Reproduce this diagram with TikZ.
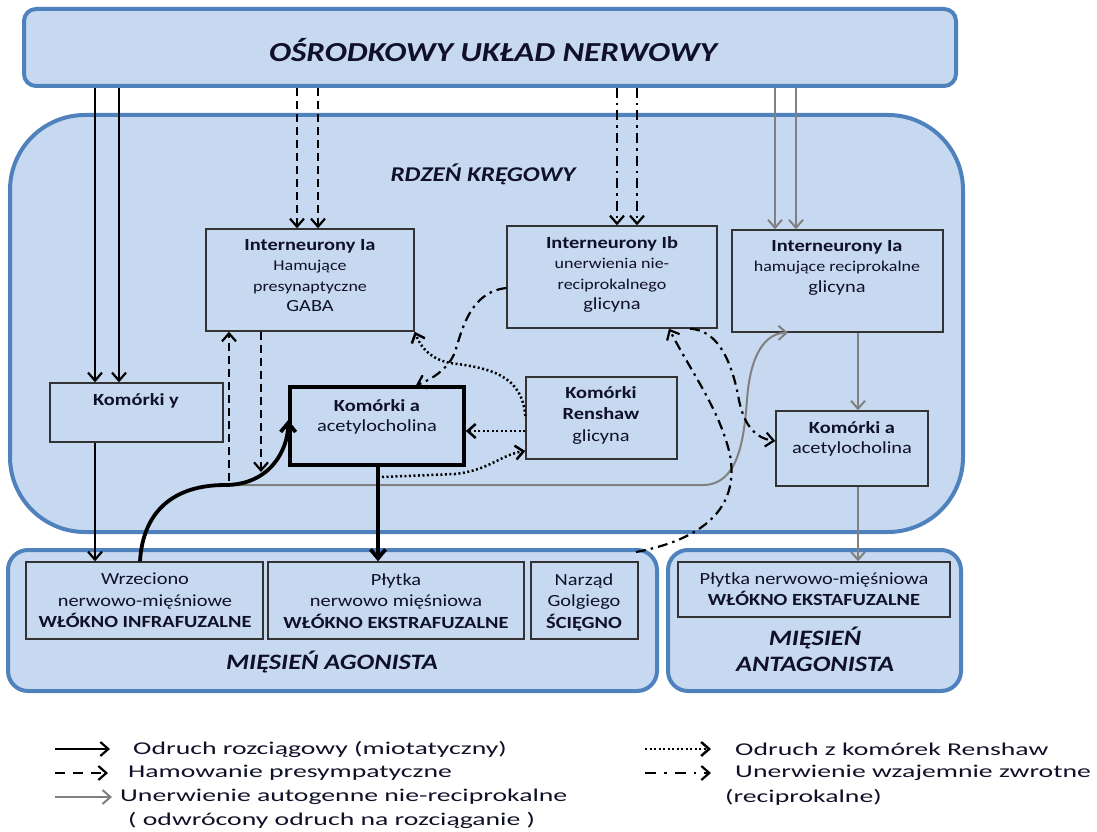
\documentclass[tikz,border=0pt]{standalone}
\usepackage{fontspec}
\setmainfont{Carlito}[FakeStretch=1.2]
\newfontfamily\legfont{Carlito}[FakeStretch=1.54]
\usetikzlibrary{arrows.meta,fit}
\definecolor{fillb}{HTML}{C6D9F1}
\definecolor{bordb}{HTML}{4F81BD}
\definecolor{grayc}{HTML}{808080}
\definecolor{txtc}{HTML}{101028}
\begin{document}
\begin{tikzpicture}[x=1pt,y=-1pt,
  bigbox/.style={draw=bordb,line width=4pt,fill=fillb,inner sep=0pt},
  cell/.style={draw=black!80,line width=1.4pt,fill=fillb,inner sep=0pt},
  txt/.style={inner sep=0pt,align=center,text=txtc},
  tip/.style={-{Straight Barb[length=8pt,width=14pt]}},
  sol/.style={line width=2.2pt,tip},
  thk/.style={line width=3.8pt,-{Straight Barb[length=9pt,width=15pt]}},
  dsh/.style={line width=2.2pt,dash pattern=on 8pt off 5pt,tip},
  dotl/.style={line width=2.5pt,dash pattern=on 2pt off 2.5pt,tip},
  dshdot/.style={line width=2.2pt,dash pattern=on 10pt off 5pt on 2.5pt off 5pt,tip},
  gry/.style={line width=2pt,draw=grayc,tip},
  btxt/.style={txt,font=\fontsize{17}{20.5}\selectfont},
  stxt/.style={txt,font=\fontsize{17}{21.5}\selectfont},
  ttl/.style={txt,font=\bfseries\itshape},
  leg/.style={inner sep=0pt,anchor=west,text=txtc,font=\legfont\fontsize{18}{20}\selectfont}
]
\useasboundingbox (0,0) rectangle (1097,832);

% big containers
\node[bigbox,rounded corners=12pt,fit={(24,9) (956,86)}] (oun) {};
\node[bigbox,rounded corners=75pt,fit={(10,115) (963,532)}] (rdz) {};
\node[bigbox,rounded corners=20pt,fit={(8,550) (657,691)}] (ago) {};
\node[bigbox,rounded corners=20pt,fit={(668,550) (961,691)}] (ant) {};

% cells
\node[cell,fit={(206,229) (414,331)}] (ia1) {};
\node[cell,fit={(507,226) (717,328)}] (ib) {};
\node[cell,fit={(732,230) (943,332)}] (ia2) {};
\node[cell,fit={(50,383) (223,442)}] (ky) {};
\node[cell,draw=black,line width=3.6pt,fit={(290,387) (464,465)}] (ka) {};
\node[cell,fit={(526,377) (677,459)}] (ren) {};
\node[cell,fit={(776,411) (928,486)}] (ka2) {};
\node[cell,fit={(26,562) (263,639)}] (wrz) {};
\node[cell,fit={(268,562) (524,639)}] (ply) {};
\node[cell,fit={(531,562) (638,639)}] (nar) {};
\node[cell,fit={(678,562) (950,617)}] (ply2) {};

% helper coordinates
\foreach \v in {95,119,140,229,261,297,318,378,416,617,637,669,690,775,788,796,858}
  \coordinate (c\v) at (\v,0);
\foreach \v in {288,416,420,431,441,451}
  \coordinate (r\v) at (0,\v);
\coordinate (j) at (225,485);
\coordinate (d1) at (229,481);
\coordinate (d2) at (261,472);
\coordinate (k1) at (382,477);
\coordinate (golgi) at (636,552);

% descending pathways
\draw[sol] (oun.south -| c95) -- (ky.north -| c95);
\draw[sol] (oun.south -| c119) -- (ky.north -| c119);
\draw[dsh] (oun.south -| c297) -- (ia1.north -| c297);
\draw[dsh] (oun.south -| c318) -- (ia1.north -| c318);
\draw[dshdot] (oun.south -| c617) -- (ib.north -| c617);
\draw[dshdot] (oun.south -| c637) -- (ib.north -| c637);
\draw[gry] (oun.south -| c775) -- (ia2.north -| c775);
\draw[gry] (oun.south -| c796) -- (ia2.north -| c796);

% gray autogenic pathway
\draw[gry] (j) -- (703,485) .. controls (738,485) and (744,440) .. (747,400)
  .. controls (750,355) and (765,333) .. (ia2.south -| c788);
\draw[gry] (ia2.south -| c858) -- (ka2.north -| c858);
\draw[gry] (ka2.south -| c858) -- (ply2.north -| c858);

% stretch reflex
\draw[sol] (ky.south -| c95) -- (wrz.north -| c95);
\draw[thk] (wrz.north -| c140) .. controls (143,510) and (175,485) .. (j)
  .. controls (270,485) and (288,450) .. (ka.west |- r420);
\draw[thk] (ka.south -| c378) -- (ply.north -| c378);

% presynaptic inhibition
\draw[dsh] (d1) -- (ia1.south -| c229);
\draw[dsh] (ia1.south -| c261) -- (d2);

% Renshaw
\draw[dotl] (ren.west |- r431) -- (ka.east |- r431);
\draw[dotl] (k1) -- (455,474) .. controls (490,470) and (500,455) .. (ren.west |- r451);
\draw[dotl] (ren.west |- r416) .. controls (522,375) and (490,368) .. (450,363)
  .. controls (425,358) and (418,340) .. (ia1.south east);

% reciprocal
\draw[dshdot] (ib.west |- r288) .. controls (470,292) and (462,330) .. (455,352)
  .. controls (448,370) and (430,380) .. (ka.north -| c416);
\draw[dshdot] (ib.south -| c690) .. controls (715,330) and (730,355) .. (738,395)
  .. controls (743,425) and (755,438) .. (ka2.west |- r441);
\draw[dshdot] (golgi) .. controls (700,540) and (740,510) .. (730,455)
  .. controls (720,410) and (690,370) .. (ib.south -| c669);

% titles
\node[ttl,font=\bfseries\itshape\fontsize{27.5}{30}\selectfont] (toun) at (493,50) {OŚRODKOWY UKŁAD NERWOWY};
\node[ttl,font=\bfseries\itshape\fontsize{21}{24}\selectfont] (trdz) at (483,174) {RDZEŃ KRĘGOWY};
\node[ttl,font=\bfseries\itshape\fontsize{22}{26}\selectfont] (tago) at (332,662) {MIĘSIEŃ AGONISTA};
\node[ttl,font=\bfseries\itshape\fontsize{22}{26}\selectfont] (tant) at (815,649) {MIĘSIEŃ\\ANTAGONISTA};

% cell texts
\node[btxt,anchor=north] (tia1) at (310,239) {\textbf{Interneurony Ia}\\{\fontsize{15}{20.5}\selectfont Hamujące}\\{\fontsize{15}{20.5}\selectfont presynaptyczne}\\GABA};
\node[btxt,anchor=north] (tib) at (612,236) {\textbf{Interneurony Ib}\\{\fontsize{15}{20.5}\selectfont unerwienia nie-}\\{\fontsize{15}{20.5}\selectfont reciprokalnego}\\glicyna};
\node[btxt,anchor=north] (tia2) at (837,240) {\textbf{Interneurony Ia}\\{\fontsize{15}{20.5}\selectfont hamujące reciprokalne}\\glicyna};
\node[btxt,anchor=north] (tky) at (136,393) {\textbf{Komórki y}};
\node[btxt,anchor=north] (tka) at (377,399) {\textbf{Komórki a}\\acetylocholina};
\node[stxt,anchor=north] (tren) at (601,386) {\textbf{Komórki}\\\textbf{Renshaw}\\glicyna};
\node[btxt,anchor=north] (tka2) at (852,421) {\textbf{Komórki a}\\acetylocholina};
\node[stxt,anchor=north] (twrz) at (145,573) {Wrzeciono\\nerwowo-mięśniowe\\\textbf{WŁÓKNO INFRAFUZALNE}};
\node[stxt,anchor=north] (tply) at (396,573) {Płytka\\nerwowo mięśniowa\\\textbf{WŁÓKNO EKSTRAFUZALNE}};
\node[stxt,anchor=north] (tnar) at (584,573) {Narząd\\Golgiego\\\textbf{ŚCIĘGNO}};
\node[stxt,anchor=north] (tply2) at (814,572) {Płytka nerwowo-mięśniowa\\\textbf{WŁÓKNO EKSTAFUZALNE}};

% legend
\node[leg] (l1) at (133,749) {Odruch rozciągowy (miotatyczny)};
\node[leg] (l2) at (128,773) {Hamowanie presympatyczne};
\node[leg] (l3) at (120,797) {Unerwienie autogenne nie-reciprokalne};
\node[leg] (l4) at (128,820) {( odwrócony odruch na rozciąganie )};
\node[leg] (l5) at (735,749) {Odruch z komórek Renshaw};
\node[leg] (l6) at (735,773) {Unerwienie wzajemnie zwrotne};
\node[leg] (l7) at (725,797) {(reciprokalne)};
\coordinate (a1) at (55,749); \coordinate (b1) at (110,749);
\coordinate (a2) at (55,773); \coordinate (b2) at (108,773);
\coordinate (a3) at (55,797); \coordinate (b3) at (112,797);
\coordinate (a5) at (645,749); \coordinate (b5) at (711,749);
\coordinate (a6) at (645,773); \coordinate (b6) at (711,773);
\draw[sol] (a1) -- (b1);
\draw[dsh,dash pattern=on 10pt off 8pt] (a2) -- (b2);
\draw[gry] (a3) -- (b3);
\draw[dotl] (a5) -- (b5);
\draw[dshdot,dash pattern=on 11pt off 8pt on 2.5pt off 8pt] (a6) -- (b6);
\end{tikzpicture}
\end{document}
